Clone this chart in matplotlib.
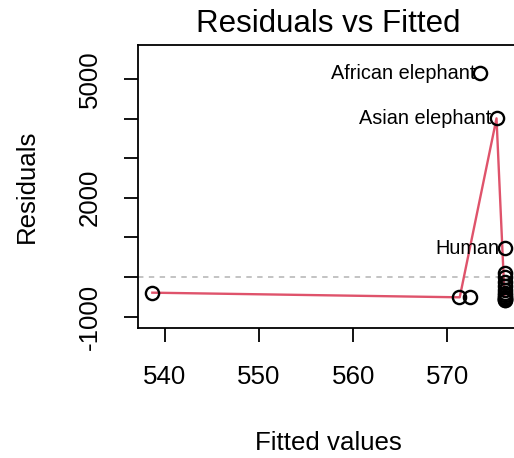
import numpy as np
import matplotlib.pyplot as plt

plt.rcParams['font.family'] = ['Liberation Sans', 'DejaVu Sans']

# fitted values and residuals
fitted = [538.7, 571.2, 572.4, 573.5, 575.2, 576.1,
          576.05, 576.05, 576.05, 576.05, 576.05, 576.05,
          576.05, 576.05, 576.05, 576.05, 576.05, 576.05]
resid = [-396, -513, -497, 5144, 4007, 725,
         109, -10, -119, -220, -328, -400, -450, -497,
         -530, -555, -570, -580]

# labelled points
lab_names = ['African elephant', 'Asian elephant', 'Human']
lab_x = [573.5, 575.2, 576.1]
lab_y = [5144, 4007, 725]

# smoother line
smooth_x = [538.7, 571.3, 575.2, 576.05]
smooth_y = [-396, -513, 4007, -497]

yticks = [-1000, 0, 1000, 2000, 3000, 4000, 5000]
ytick_labels = ['-1000', '', '', '2000', '', '', '5000']
xticks = [540, 550, 560, 570]

fig = plt.figure(figsize=(5.14, 4.58), dpi=100)
ax = fig.add_axes([138/514, 1 - 328/458, 1.01 - 138/514, (328 - 45)/458])

ax.axhline(0, color='#BEBEBE', linewidth=1.3, dashes=(3, 3), zorder=1)
ax.plot(fitted, resid, 'o', color='black', fillstyle='none',
        markersize=9.5, markeredgewidth=1.7, zorder=3)
ax.plot(smooth_x, smooth_y, color='#DF536B', linewidth=1.7, zorder=2)

for name, x, y in zip(lab_names, lab_x, lab_y):
    ax.annotate(name, (x, y), xytext=(-4, 0), textcoords='offset points',
                ha='right', va='center', fontsize=14.3)

ax.set_xlim(537.18, 577.6)
ax.set_ylim(-1288, 5859)
ax.set_xticks(xticks)
ax.set_yticks(yticks)
ax.set_yticklabels(ytick_labels, rotation=90, va='center')
ax.tick_params(labelsize=18.6, length=10, width=1.3, pad=17)
ax.tick_params(axis='y', pad=16)
for s in ax.spines.values():
    s.set_linewidth(1.3)

ax.set_xlabel('Fitted values', fontsize=18.6, labelpad=30)
ax.set_ylabel('Residuals', fontsize=18.6, labelpad=28)
ax.set_title('Residuals vs Fitted', fontsize=22.5, pad=9)

fig.savefig('out.png', dpi=100)
